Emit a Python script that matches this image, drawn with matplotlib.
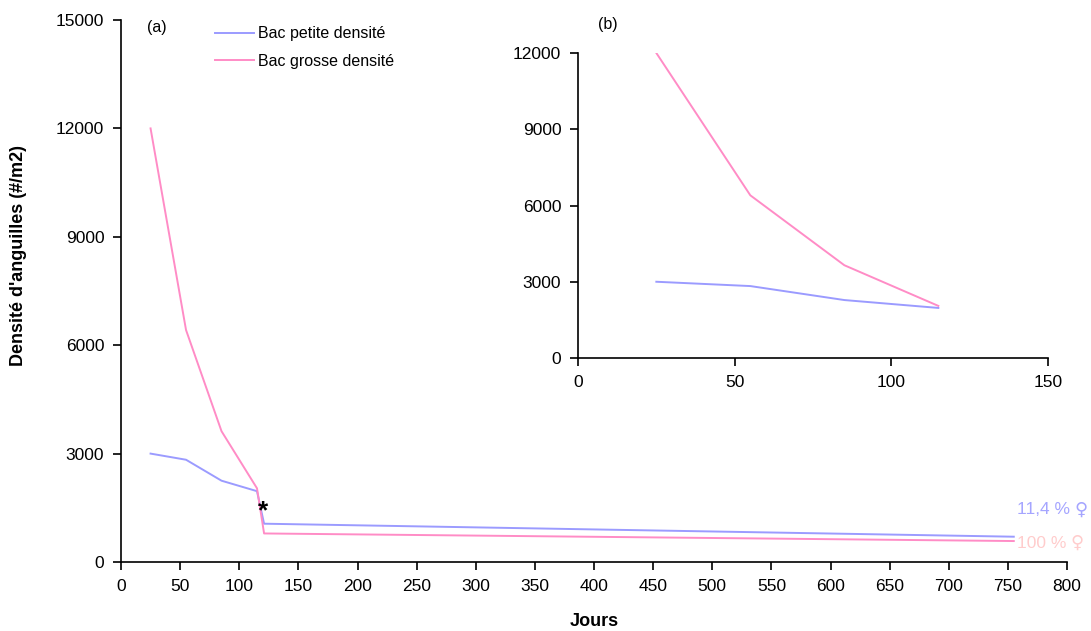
import matplotlib
matplotlib.use("Agg")
import matplotlib.pyplot as plt

plt.rcParams['font.family'] = ['Liberation Sans', 'DejaVu Sans']
plt.rcParams['font.size'] = 12.5

# Données (jours, densité #/m2)
jours_petite = [25, 55, 85, 115, 121, 755]
dens_petite = [3000, 2830, 2250, 1960, 1060, 700]
jours_grosse = [25, 55, 85, 115, 121, 755]
dens_grosse = [12000, 6420, 3620, 2040, 790, 580]

# Encart (b)
jours_b = [25, 55, 85, 115]
petite_b = [3000, 2830, 2280, 1970]
grosse_b = [12000, 6400, 3650, 2050]

bleu = '#9b9bff'
rose = '#ff8cc6'

fig = plt.figure(figsize=(10.91, 6.31), dpi=100)
ax = fig.add_axes([121/1091, 1 - 562/631, (1067-121)/1091, (562-20)/631])
ax.plot(jours_petite, dens_petite, color=bleu, lw=1.4, label='Bac petite densité')
ax.plot(jours_grosse, dens_grosse, color=rose, lw=1.4, label='Bac grosse densité')
ax.set_xlim(0, 800)
ax.set_ylim(0, 15000)
ax.set_xticks(range(0, 801, 50))
ax.set_yticks(range(0, 15001, 3000))
for s in ['top', 'right']:
    ax.spines[s].set_visible(False)
ax.tick_params(direction='out', length=6, width=1.2, pad=6)
ax.spines['left'].set_linewidth(1.2)
ax.spines['bottom'].set_linewidth(1.2)
ax.set_xlabel('Jours', fontweight='bold', fontsize=13)
ax.set_ylabel("Densité d'anguilles (#/m2)", fontweight='bold', fontsize=13)
ax.xaxis.set_label_coords(0.5, -0.094)
ax.yaxis.set_label_coords(-0.099, 0.565)
ax.text(120, 1400, '*', fontsize=19, fontweight='bold', ha='center', va='center')
ax.text(0.028, 1.0, '(a)', transform=ax.transAxes, ha='left', va='top', fontsize=11.5)

# pourcentages de femelles
t1 = ax.text(758, 1450, '11,4 %', color='#a5a5ff', fontsize=12.5,
             ha='left', va='center', clip_on=False)
ax.annotate('♀', xy=(1, 0.5), xycoords=t1, xytext=(3, 0), textcoords='offset points',
            color='#a5a5ff', fontsize=13, family='DejaVu Sans', va='center', ha='left')
t2 = ax.text(758, 520, '100 %', color='#ffcccc', fontsize=12.5,
             ha='left', va='center', clip_on=False)
ax.annotate('♀', xy=(1, 0.5), xycoords=t2, xytext=(3, 0), textcoords='offset points',
            color='#ffcccc', fontsize=13, family='DejaVu Sans', va='center', ha='left')

ax.legend(loc='upper left', bbox_to_anchor=(0.0837, 1.015), frameon=False, fontsize=11.5,
          handlelength=2.5, handletextpad=0.2, labelspacing=0.8)

# Encart
axb = fig.add_axes([578/1091, 1 - 358/631, (1048-578)/1091, (358-53)/631])
axb.plot(jours_b, petite_b, color=bleu, lw=1.4)
axb.plot(jours_b, grosse_b, color=rose, lw=1.4)
axb.set_xlim(0, 150)
axb.set_ylim(0, 12000)
axb.set_xticks([0, 50, 100, 150])
axb.set_yticks(range(0, 12001, 3000))
for s in ['top', 'right']:
    axb.spines[s].set_visible(False)
axb.tick_params(direction='out', length=6, width=1.2, pad=6)
axb.spines['left'].set_linewidth(1.2)
axb.spines['bottom'].set_linewidth(1.2)
fig.text(608/1091, 1 - 24/631, '(b)', ha='center', va='center', fontsize=11.5)

fig.savefig('out.png', dpi=100)
